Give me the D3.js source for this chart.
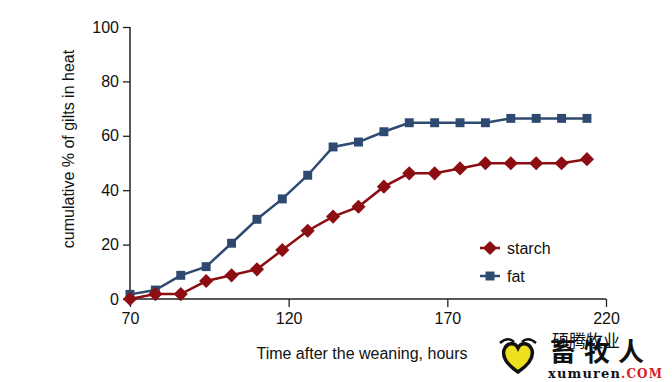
<!DOCTYPE html>
<html>
<head>
<meta charset="utf-8">
<script src="https://cdn.jsdelivr.net/npm/d3@7"></script>
<style>
  body { margin: 0; background: #fff; }
  text { font-family: 'Liberation Sans', Arial, sans-serif; fill: #111; }
</style>
</head>
<body>
<div id="chart"></div>
<script>
const WIDTH = 672;
const HEIGHT = 382;
const MARGIN = { top: 27, right: 66, bottom: 83, left: 130 };

// hours after weaning
const hours = [70, 78, 86, 94, 102, 110, 118, 126, 134, 142, 150, 158, 166, 174, 182, 190, 198, 206, 214];
const starch = [0, 1.8, 1.8, 6.6, 8.7, 10.9, 18, 25.1, 30.3, 33.9, 41.3, 46.2, 46.2, 48, 49.9, 49.9, 49.9, 49.9, 51.4];
const fat = [1.7, 3.3, 8.7, 11.9, 20.5, 29.3, 36.8, 45.5, 55.9, 57.7, 61.5, 64.8, 64.8, 64.8, 64.8, 66.4, 66.4, 66.4, 66.4];
const xTicks = [70, 120, 170, 220];
const yTicks = [0, 20, 40, 60, 80, 100];

const series = [
  { name: 'starch', values: starch, color: '#8c0d12', shape: d3.symbolSquare, size: 100, rotate: 45 },
  { name: 'fat', values: fat, color: '#2f4a70', shape: d3.symbolSquare, size: 80, rotate: 0 }
];

const w = WIDTH - MARGIN.left - MARGIN.right;
const h = HEIGHT - MARGIN.top - MARGIN.bottom;

const svg = d3.select('#chart').append('svg')
  .attr('width', WIDTH)
  .attr('height', HEIGHT);

const g = svg.append('g')
  .attr('transform', 'translate(' + MARGIN.left + ',' + MARGIN.top + ')');

const x = d3.scaleLinear().domain([70, 220]).range([0, w]);
const y = d3.scaleLinear().domain([0, 100]).range([h, 0]);

// axes
const xAxis = g.append('g')
  .attr('transform', 'translate(0,' + h + ')')
  .call(d3.axisBottom(x).tickValues(xTicks).tickSize(8).tickPadding(6));
const yAxis = g.append('g')
  .call(d3.axisLeft(y).tickValues(yTicks).tickSize(7).tickPadding(4));

[xAxis, yAxis].forEach(a => {
  a.select('.domain').attr('stroke', '#222').attr('stroke-width', 1.5);
  a.selectAll('.tick line').attr('stroke', '#222').attr('stroke-width', 1.3);
  a.selectAll('.tick text')
    .style('font-family', "'Liberation Sans', Arial, sans-serif")
    .style('font-size', '16px')
    .attr('fill', '#111');
});
xAxis.select('.domain').attr('d', 'M0,0H' + w);
yAxis.select('.domain').attr('d', 'M0,0V' + h);

// axis labels
g.append('text')
  .attr('x', w / 2 - 6)
  .attr('y', h + 60)
  .attr('text-anchor', 'middle')
  .style('font-size', '16px')
  .text('Time after the weaning, hours');

g.append('text')
  .attr('transform', 'translate(-56,' + (h / 2 - 14) + ') rotate(-90)')
  .attr('text-anchor', 'middle')
  .style('font-size', '16px')
  .text('cumulative % of gilts in heat');

// lines and markers (fat first so starch sits on top)
const line = d3.line().x((d, i) => x(hours[i])).y(d => y(d));

series.slice().reverse().forEach(s => {
  g.append('path')
    .datum(s.values)
    .attr('fill', 'none')
    .attr('stroke', s.color)
    .attr('stroke-width', 2.5)
    .attr('d', line);
  g.selectAll(null)
    .data(s.values)
    .join('path')
    .attr('transform', (d, i) => 'translate(' + x(hours[i]) + ',' + y(d) + ') rotate(' + s.rotate + ')')
    .attr('d', d3.symbol().type(s.shape).size(s.size))
    .attr('fill', s.color);
});

// legend
const legend = g.append('g');
series.forEach((s, i) => {
  const ly = 221 + i * 28;
  const lx = 350;
  legend.append('line')
    .attr('x1', lx).attr('x2', lx + 20)
    .attr('y1', ly).attr('y2', ly)
    .attr('stroke', s.color).attr('stroke-width', 2.5);
  legend.append('path')
    .attr('transform', 'translate(' + (lx + 10) + ',' + ly + ') rotate(' + s.rotate + ')')
    .attr('d', d3.symbol().type(s.shape).size(s.size))
    .attr('fill', s.color);
  legend.append('text')
    .attr('x', lx + 27)
    .attr('y', ly + 6)
    .style('font-size', '16px')
    .text(s.name);
});

// watermark
const wm = svg.append('g');
wm.append('text')
  .attr('x', 552).attr('y', 347)
  .style('font-family', "'Noto Sans CJK SC', sans-serif")
  .style('font-size', '17px')
  .attr('fill', '#dcdcdc')
  .text('硕腾牧业');
wm.append('path')
  .attr('d', 'M504,350 C507,342 515,342 518,348 C521,342 529,342 532,350 C534,358 527,366 518,372 C509,366 502,358 504,350 Z')
  .attr('fill', '#eee01e')
  .attr('stroke', '#111')
  .attr('stroke-width', 3.5);
wm.append('path')
  .attr('d', 'M500,343 Q508,336 514,342 M522,342 Q528,336 536,343')
  .attr('fill', 'none')
  .attr('stroke', '#111')
  .attr('stroke-width', 2.5);
wm.append('text')
  .attr('x', 550).attr('y', 361)
  .style('font-family', "'Noto Sans CJK SC', sans-serif")
  .style('font-weight', 'bold')
  .style('font-size', '26px')
  .style('letter-spacing', '8px')
  .attr('fill', '#111')
  .text('畜牧人');
const url = wm.append('text')
  .attr('x', 548).attr('y', 378)
  .attr('textLength', 114)
  .style('font-family', "'DejaVu Serif', serif")
  .style('font-weight', 'bold')
  .style('font-size', '13px')
  .attr('fill', '#111');
url.append('tspan').text('xumuren');
url.append('tspan').attr('fill', '#d42020').style('font-size', '12px').text('.COM');
</script>
</body>
</html>
